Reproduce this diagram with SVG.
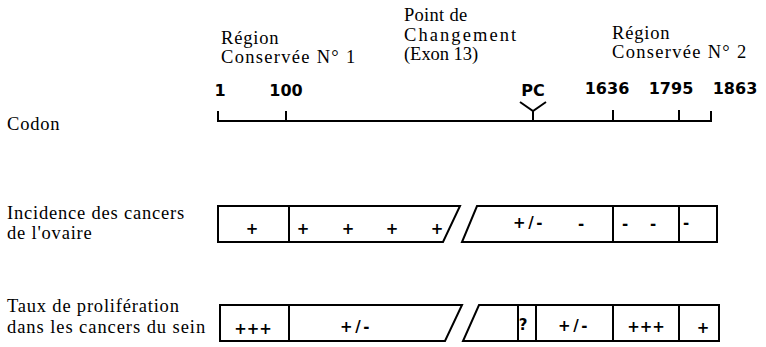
<svg xmlns="http://www.w3.org/2000/svg" width="766" height="347" viewBox="0 0 766 347">
<style>
.lbl{font-family:"Liberation Serif","Times New Roman",serif;font-size:18.5px;letter-spacing:0.8px;fill:#000}
.num{font-family:"DejaVu Sans",Arial,sans-serif;font-size:16px;font-weight:bold;fill:#000;text-anchor:middle}
.sym{font-family:"DejaVu Sans",Arial,sans-serif;font-size:15px;font-weight:bold;fill:#000;text-anchor:middle}
.box{fill:#fff;stroke:#000;stroke-width:2;stroke-linejoin:miter}
.ln{fill:none;stroke:#000;stroke-width:2}
</style>
<rect width="766" height="347" fill="#fff"/>

<g id="headers">
<text class="lbl" x="221" y="44">Région</text>
<text class="lbl" x="221" y="63" textLength="135" lengthAdjust="spacing">Conservée N° 1</text>
<text class="lbl" x="404" y="21" textLength="64" lengthAdjust="spacing">Point de</text>
<text class="lbl" x="404" y="41" textLength="113" lengthAdjust="spacing">Changement</text>
<text class="lbl" x="404" y="60" textLength="75" lengthAdjust="spacing">(Exon 13)</text>
<text class="lbl" x="612" y="39">Région</text>
<text class="lbl" x="612" y="58" textLength="135" lengthAdjust="spacing">Conservée N° 2</text>
</g>

<g id="row-labels">
<text class="lbl" x="7" y="130">Codon</text>
<text class="lbl" x="7" y="219">Incidence des cancers</text>
<text class="lbl" x="7" y="239">de l'ovaire</text>
<text class="lbl" x="7" y="312">Taux de prolifération</text>
<text class="lbl" x="7" y="333" textLength="199" lengthAdjust="spacing">dans les cancers du sein</text>
</g>

<g id="codon-axis">
<path class="ln" d="M218 111V121H711V111M286 111V121M613 110V121M679 110V121"/>
<path class="ln" d="M520 102L533 111L546 102M533 111V121" stroke-width="2.6"/>
<text class="num" x="220" y="96">1</text>
<text class="num" x="286" y="96">100</text>
<text class="num" x="533" y="96">PC</text>
<text class="num" x="607" y="94">1636</text>
<text class="num" x="671" y="94">1795</text>
<text class="num" x="735" y="94">1863</text>
</g>

<g id="ovaire">
<path class="box" d="M218 206H460L443 242H218Z"/>
<path class="ln" d="M289 206V242"/>
<path class="box" d="M477 206H717V242H462Z"/>
<path class="ln" d="M613 206V242M679 206V242"/>
<text class="sym" x="252" y="234">+</text>
<text class="sym" x="303" y="234">+</text>
<text class="sym" x="348" y="234">+</text>
<text class="sym" x="392" y="234">+</text>
<text class="sym" x="437" y="234">+</text>
<text class="sym" x="529" y="228" letter-spacing="2.5">+/-</text>
<text class="sym" x="581" y="229">-</text>
<text class="sym" x="625" y="229">-</text>
<text class="sym" x="653" y="229">-</text>
<text class="sym" x="686" y="228">-</text>
</g>

<g id="sein">
<path class="box" d="M220 305H462L445 341H220Z"/>
<path class="ln" d="M289 305V341"/>
<path class="box" d="M479 305H719V341H463Z"/>
<path class="ln" d="M518 305V341M536 305V341M613 305V341M679 305V341"/>
<text class="sym" x="253" y="334">+++</text>
<text class="sym" x="356" y="332" letter-spacing="2.5">+/-</text>
<text class="sym" x="523" y="330" font-size="17">?</text>
<text class="sym" x="574" y="331" letter-spacing="2.5">+/-</text>
<text class="sym" x="646" y="332">+++</text>
<text class="sym" x="703" y="333">+</text>
</g>
</svg>
